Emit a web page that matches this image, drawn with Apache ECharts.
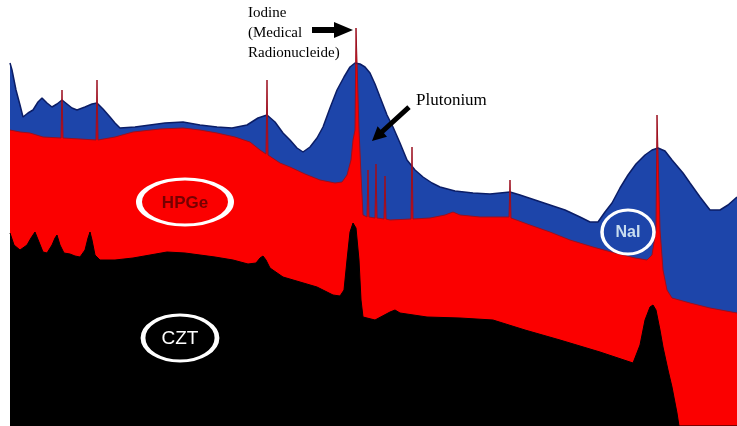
<!DOCTYPE html>
<html>
<head>
<meta charset="utf-8">
<script src="https://cdn.jsdelivr.net/npm/echarts@6/dist/echarts.min.js"></script>
<style>
  html, body { margin: 0; padding: 0; background: #fff; }
  #spectrum { width: 737px; height: 426px; }
</style>
</head>
<body>
<div id="spectrum"></div>
<script>
// NaI spectrum (broad peaks)
var naiChannels = [10,12,16,20,23,28,33,38,42,47,52,57,62,67,72,77,85,92,97,103,110,115,120,135,150,165,183,200,217,232,247,258,267,275,283,290,297,303,310,317,323,330,337,344,350,355,360,365,370,375,380,387,393,400,407,415,423,432,440,455,473,490,500,510,520,535,550,565,580,590,598,605,612,620,628,636,645,652,658,665,672,683,690,700,710,720,728,737];
var naiCounts = [363,356,336,321,309,313,316,324,328,323,319,322,326,322,318,316,319,322,323,317,309,303,298,299,301,303,304,301,299,298,301,308,311,304,293,286,278,274,279,288,299,318,336,349,359,363,362,359,353,342,329,311,299,283,266,256,249,243,239,235,233,232,233,234,231,226,221,216,209,204,204,214,223,238,251,262,271,276,278,275,266,253,243,229,216,216,221,229];

// HPGe spectrum (sharp lines)
var hpgeChannels = [10,20,30,43,61,62,63,80,96,97,98,115,133,160,183,200,217,235,250,260,266,267,268,280,290,305,320,335,342,347,351,353,355,356,358,359,361,363,367,368,369,375,376,377,384,385,386,390,411,412,413,430,445,453,460,480,500,509,510,511,530,550,570,593,615,635,647,652,656,657,659,660,663,667,672,690,710,737];
var hpgeCounts = [296,294,293,289,288,336,288,287,286,346,286,289,294,297,298,296,293,289,284,276,272,346,271,263,259,252,246,243,244,251,266,286,296,398,398,296,251,211,209,256,209,208,262,208,207,250,207,206,207,279,207,208,211,214,211,209,209,209,246,208,201,194,186,179,173,168,166,171,196,311,311,196,156,136,128,123,118,113];

// CZT spectrum
var cztChannels = [10,14,20,27,31,35,39,43,47,52,55,57,60,64,70,75,80,85,88,90,92,95,100,115,133,150,167,185,200,215,233,248,256,260,263,266,270,283,300,317,333,340,344,347,350,353,356,359,361,363,375,390,395,400,427,460,493,525,560,600,633,640,645,650,653,656,660,663,668,672,677,679,737];
var cztCounts = [193,181,176,181,188,194,184,174,173,181,188,191,181,173,172,170,169,176,188,194,186,171,166,166,168,171,174,173,171,169,166,162,163,168,170,166,158,149,144,139,131,130,136,166,194,203,198,166,126,109,106,114,116,113,109,108,106,96,86,74,63,81,106,119,121,116,96,79,56,39,13,0,0];

function pairs(xs, ys) {
  var out = [];
  for (var i = 0; i < xs.length; i++) out.push([xs[i], ys[i]]);
  return out;
}

// white ring around a detector name
function ring(cx, cy, rx, ry) {
  return {
    type: 'circle', z: 10, x: cx, y: cy, scaleX: rx / ry, scaleY: 1,
    shape: { cx: 0, cy: 0, r: ry },
    style: { fill: 'none', stroke: '#fff', lineWidth: 3, strokeNoScale: true }
  };
}

var myChart = echarts.init(document.querySelector('#spectrum'));

var option = {
  animation: false,
  backgroundColor: '#fff',
  grid: { left: 10, right: 0, top: 0, bottom: 0 },
  xAxis: { type: 'value', min: 10, max: 737, show: false },
  yAxis: { type: 'value', min: 0, max: 426, show: false },
  series: [
    {
      name: 'NaI',
      type: 'line',
      showSymbol: false,
      data: pairs(naiChannels, naiCounts),
      lineStyle: { color: '#0b1d66', width: 1.5 },
      areaStyle: { color: '#1d45aa', opacity: 1 }
    },
    {
      name: 'HPGe',
      type: 'line',
      showSymbol: false,
      data: pairs(hpgeChannels, hpgeCounts),
      lineStyle: { color: '#9a1020', width: 1 },
      areaStyle: { color: '#fb0000', opacity: 1 }
    },
    {
      name: 'CZT',
      type: 'line',
      showSymbol: false,
      data: pairs(cztChannels, cztCounts),
      lineStyle: { color: '#000', width: 1 },
      areaStyle: { color: '#000', opacity: 1 }
    }
  ],
  graphic: [
    { type: 'text', z: 10, style: { text: 'Iodine', x: 248, y: 6, font: '15px "Liberation Serif"', fill: '#000' } },
    { type: 'text', z: 10, style: { text: '(Medical', x: 248, y: 26, font: '15px "Liberation Serif"', fill: '#000' } },
    { type: 'text', z: 10, style: { text: 'Radionucleide)', x: 248, y: 46, font: '15px "Liberation Serif"', fill: '#000' } },
    { type: 'polygon', z: 10, shape: { points: [[312,27],[334,27],[334,22],[353,30],[334,38],[334,33],[312,33]] }, style: { fill: '#000' } },
    { type: 'text', z: 10, style: { text: 'Plutonium', x: 416, y: 92, font: '17px "Liberation Serif"', fill: '#000' } },
    { type: 'polygon', z: 10, shape: { points: [[407.3,105.2],[380.6,129.7],[377.6,126.3],[372,141],[387,136.7],[384,133.3],[410.7,108.9]] }, style: { fill: '#000' } },
    ring(185, 202, 46, 23),
    { type: 'text', z: 10, style: { text: 'HPGe', x: 185, y: 203, align: 'center', verticalAlign: 'middle', font: 'bold 17px "Liberation Sans"', fill: '#760000' } },
    ring(180, 338, 37, 23),
    { type: 'text', z: 10, style: { text: 'CZT', x: 180, y: 339, align: 'center', verticalAlign: 'middle', font: '19px "Liberation Sans"', fill: '#fff' } },
    ring(628, 232, 26, 22),
    { type: 'text', z: 10, style: { text: 'NaI', x: 628, y: 233, align: 'center', verticalAlign: 'middle', font: 'bold 16px "Liberation Sans"', fill: '#c8dcef' } }
  ]
};

myChart.setOption(option);
window.addEventListener('resize', function () {
  myChart.resize();
});
</script>
</body>
</html>
